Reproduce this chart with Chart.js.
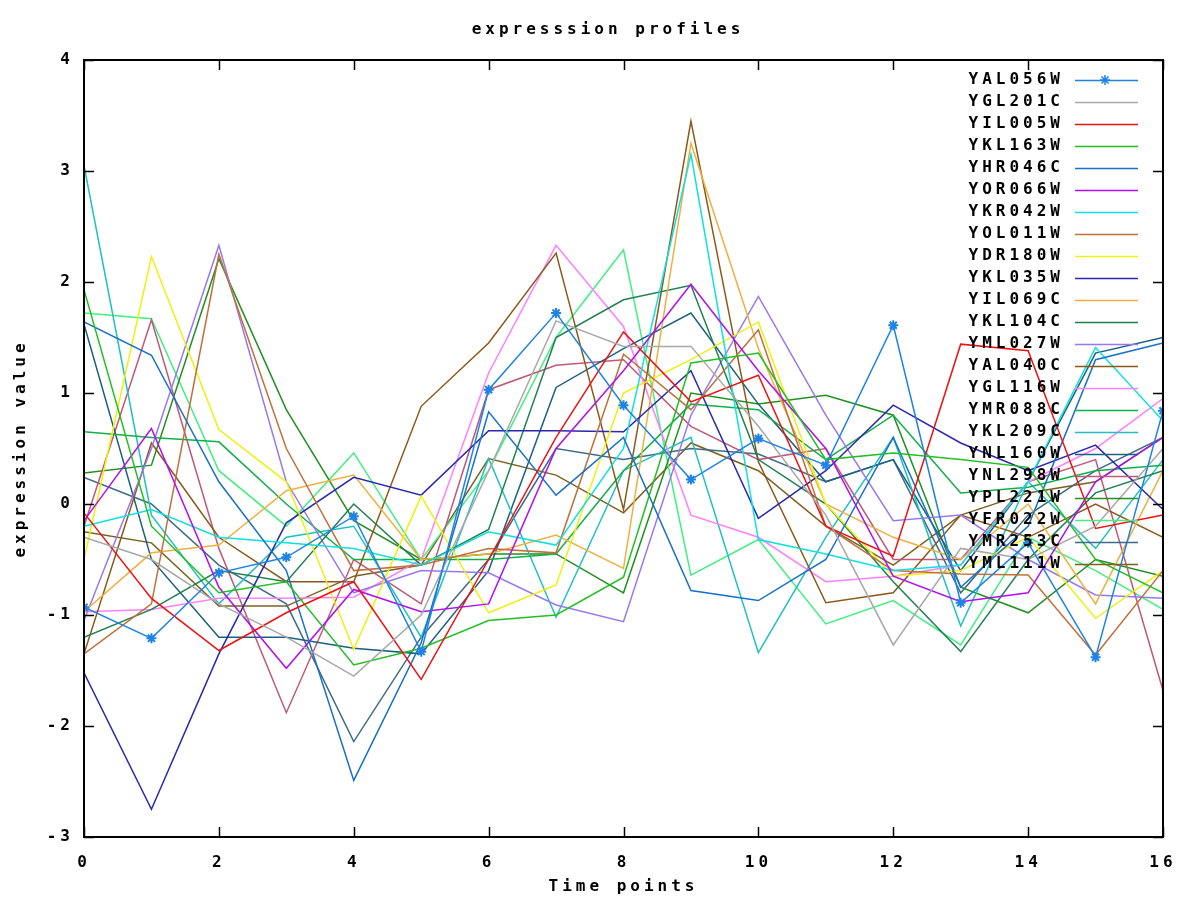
<!DOCTYPE html>
<html lang="en">
<head>
    <meta charset="UTF-8">
    <title>expression profiles</title>
    <style>
        body { margin: 0; padding: 0; background: #fff; }
        #chart { display: block; }
    </style>
    <script src="https://cdn.jsdelivr.net/npm/chart.js"></script>
</head>
<body>
    <canvas id="chart" width="1200" height="900"></canvas>
    <script>
        // time points on the x axis
        var timePoints = [0, 1, 2, 3, 4, 5, 6, 7, 8, 9, 10, 11, 12, 13, 14, 15, 16];

        // expression values per gene
        var YAL056W = [-0.93, -1.21, -0.62, -0.48, -0.11, -1.33, 1.03, 1.72, 0.89, 0.22, 0.59, 0.35, 1.61, -0.89, -0.35, -1.38, 0.84];
        var YGL201C = [-0.3, -0.5, -0.9, -1.2, -1.55, -1.0, 0.3, 1.65, 1.42, 1.42, 0.7, -0.1, -1.27, -0.4, -0.5, -0.2, 0.5];
        var YIL005W = [-0.08, -0.85, -1.32, -0.98, -0.7, -1.58, -0.5, 0.6, 1.55, 0.92, 1.16, -0.2, -0.47, 1.44, 1.38, -0.22, -0.1];
        var YKL163W = [1.93, -0.2, -0.8, -0.7, -1.45, -1.3, -1.05, -1.0, -0.66, 1.27, 1.36, 0.4, 0.46, 0.4, 0.33, -0.5, -0.8];
        var YHR046C = [1.64, 1.34, 0.2, -0.6, -2.49, -1.25, 0.83, 0.08, 0.6, -0.78, -0.87, -0.5, 0.6, -0.75, -0.2, 1.3, 1.45];
        var YOR066W = [-0.15, 0.68, -0.75, -1.48, -0.77, -0.97, -0.9, 0.5, 1.2, 1.98, 1.2, 0.5, -0.65, -0.88, -0.8, 0.2, 0.6];
        var YKR042W = [-0.2, -0.05, -0.3, -0.35, -0.4, -0.55, -0.25, -0.37, 0.5, 3.15, -0.32, -0.45, -0.6, -0.55, 0.2, 1.41, 0.75];
        var YOL011W = [-1.35, -0.9, 2.25, 0.5, -0.6, -0.55, -0.4, -0.44, 1.35, 0.85, 1.57, -0.2, -0.6, -0.63, -0.64, -1.36, -0.6];
        var YDR180W = [-0.5, 2.23, 0.67, 0.2, -1.31, 0.07, -0.98, -0.73, 1.0, 1.3, 1.64, 0.0, -0.65, -0.6, -0.3, -1.03, -0.6];
        var YKL035W = [-1.52, -2.75, -1.35, -0.17, 0.24, 0.08, 0.66, 0.66, 0.65, 1.2, -0.13, 0.3, 0.89, 0.55, 0.3, 0.53, -0.05];
        var YIL069C = [-0.97, -0.44, -0.37, 0.12, 0.26, -0.5, -0.45, -0.28, -0.58, 3.25, 1.4, 0.0, -0.3, -0.5, 0.0, -0.9, 0.3];
        var YKL104C = [-1.2, -0.95, -0.6, -0.7, 0.0, -0.55, -0.23, 1.5, 1.84, 1.97, 0.4, 0.0, -0.7, -1.33, -0.5, 0.1, 0.3];
        var YML027W = [-1.05, 0.5, 2.33, 0.2, -0.8, -0.6, -0.62, -0.91, -1.06, 0.8, 1.87, 0.8, -0.15, -0.1, -0.5, -0.82, -0.85];
        var YAL040C = [-1.35, 0.55, -0.3, -0.7, -0.7, 0.88, 1.45, 2.26, -0.05, 3.45, 0.38, -0.89, -0.8, -0.1, -0.3, 0.0, -0.3];
        var YGL116W = [-0.97, -0.95, -0.85, -0.85, -0.84, -0.5, 1.18, 2.33, 1.6, -0.1, -0.3, -0.7, -0.65, -0.55, 0.2, 0.5, 0.95];
        var YMR088C = [0.65, 0.6, 0.56, 0.0, -0.5, -0.5, -0.5, -0.45, 0.3, 0.9, 0.85, 0.4, 0.8, 0.1, 0.15, 0.3, 0.35];
        var YKL209C = [3.05, -0.1, -0.9, -0.3, -0.2, -1.2, 0.41, -1.02, 0.3, 0.6, -1.34, -0.3, 0.6, -1.1, 0.2, -0.4, 0.4];
        var YNL160W = [1.62, -0.5, -1.2, -1.2, -1.3, -1.35, -0.6, 1.05, 1.4, 1.72, 0.9, 0.2, 0.4, -0.6, 0.2, 1.36, 1.5];
        var YNL298W = [-0.2, 1.66, -0.4, -1.88, -0.5, -0.9, 1.03, 1.25, 1.3, 0.7, 0.4, 0.5, -0.5, -0.5, 0.2, 0.4, -1.68];
        var YPL221W = [0.28, 0.35, 2.21, 0.85, -0.15, -0.5, -0.45, -0.45, -0.8, 1.0, 0.9, 0.98, 0.8, -0.75, -0.98, -0.5, -0.65];
        var YFR022W = [1.72, 1.67, 0.3, -0.2, 0.46, -0.5, 0.3, 1.5, 2.29, -0.64, -0.32, -1.08, -0.87, -1.27, -0.3, -0.6, -0.95];
        var YMR253C = [0.24, 0.0, -0.55, -0.9, -2.14, -1.2, -0.5, 0.5, 0.4, 0.5, 0.45, 0.2, 0.4, -0.8, -0.1, 0.3, 0.6];
        var YML111W = [-0.25, -0.35, -0.92, -0.92, -0.65, -0.55, 0.41, 0.26, -0.08, 0.55, 0.3, -0.2, -0.55, -0.1, 0.1, 0.2, 0.6];

        var geneNames = ['YAL056W', 'YGL201C', 'YIL005W', 'YKL163W', 'YHR046C', 'YOR066W', 'YKR042W', 'YOL011W',
            'YDR180W', 'YKL035W', 'YIL069C', 'YKL104C', 'YML027W', 'YAL040C', 'YGL116W', 'YMR088C',
            'YKL209C', 'YNL160W', 'YNL298W', 'YPL221W', 'YFR022W', 'YMR253C', 'YML111W'];
        var geneValues = [YAL056W, YGL201C, YIL005W, YKL163W, YHR046C, YOR066W, YKR042W, YOL011W,
            YDR180W, YKL035W, YIL069C, YKL104C, YML027W, YAL040C, YGL116W, YMR088C,
            YKL209C, YNL160W, YNL298W, YPL221W, YFR022W, YMR253C, YML111W];
        var geneColors = ['#1e82e6', '#a8a8a8', '#ee1111', '#22c022', '#1870c8', '#b010f0', '#10e0e0', '#c0703c',
            '#f0f010', '#2828b0', '#f0b040', '#208050', '#9878f0', '#8c5818', '#ff80ff', '#10b048',
            '#20c0c0', '#1c6080', '#c05878', '#209020', '#40f080', '#3c6c88', '#7c6020'];

        var FONT = "'DejaVu Sans Mono', monospace";
        var SPACING = '4px';

        var datasets = geneNames.map(function (name, i) {
            return {
                label: name,
                data: timePoints.map(function (t, j) { return { x: t, y: geneValues[i][j] }; }),
                borderColor: geneColors[i],
                backgroundColor: geneColors[i],
                borderWidth: 1.5,
                pointRadius: i === 0 ? 5 : 0,
                pointStyle: 'star',
                pointBorderWidth: 2,
                tension: 0
            };
        });

        // gnuplot style frame, inward ticks, legend and title
        var gnuplotLook = {
            id: 'gnuplotLook',
            beforeUpdate: function (chart) { chart.ctx.letterSpacing = SPACING; },
            beforeDraw: function (chart) { chart.ctx.letterSpacing = SPACING; },
            afterDatasetsDraw: function (chart) {
                var ctx = chart.ctx;
                var a = chart.chartArea;
                var xs = chart.scales.x, ys = chart.scales.y;
                ctx.save();
                ctx.letterSpacing = SPACING;
                ctx.strokeStyle = '#000';
                ctx.lineWidth = 2;
                ctx.strokeRect(a.left, a.top, a.right - a.left, a.bottom - a.top);

                ctx.lineWidth = 1.5;
                ctx.beginPath();
                xs.ticks.forEach(function (t) {
                    var px = Math.round(xs.getPixelForValue(t.value)) + 0.5;
                    ctx.moveTo(px, a.bottom); ctx.lineTo(px, a.bottom - 10);
                    ctx.moveTo(px, a.top); ctx.lineTo(px, a.top + 10);
                });
                ys.ticks.forEach(function (t) {
                    var py = Math.round(ys.getPixelForValue(t.value)) + 0.5;
                    ctx.moveTo(a.left, py); ctx.lineTo(a.left + 10, py);
                    ctx.moveTo(a.right, py); ctx.lineTo(a.right - 10, py);
                });
                ctx.stroke();

                // legend, top right inside the plot
                ctx.font = 'bold 16px ' + FONT;
                ctx.textAlign = 'right';
                ctx.textBaseline = 'middle';
                chart.data.datasets.forEach(function (ds, i) {
                    var y = 80 + 22 * i;
                    ctx.fillStyle = '#000';
                    ctx.fillText(ds.label, 1064, y);
                    ctx.strokeStyle = ds.borderColor;
                    ctx.lineWidth = 1.5;
                    ctx.beginPath();
                    ctx.moveTo(1075, y + 0.5);
                    ctx.lineTo(1138, y + 0.5);
                    ctx.stroke();
                    if (ds.pointRadius > 0) {
                        Chart.helpers.drawPoint(ctx, {
                            pointStyle: 'star', radius: 5, borderWidth: 2
                        }, 1105, y);
                    }
                });

                // title
                ctx.textAlign = 'center';
                ctx.fillText('expresssion profiles', 608, 30);
                ctx.restore();
            }
        };

        var tickFont = { family: FONT, size: 16, weight: 'bold' };

        var ctx = document.getElementById('chart').getContext('2d');
        new Chart(ctx, {
            type: 'line',
            data: { datasets: datasets },
            options: {
                responsive: false,
                animation: false,
                layout: { padding: { top: 60, right: 37, left: 0, bottom: 0 } },
                plugins: {
                    legend: { display: false },
                    title: { display: false },
                    tooltip: { enabled: false }
                },
                scales: {
                    x: {
                        type: 'linear',
                        min: 0,
                        max: 16,
                        afterFit: function (s) { s.height = 63; },
                        grid: { display: false, drawTicks: false },
                        border: { display: false },
                        ticks: {
                            stepSize: 2,
                            padding: 16,
                            color: '#000',
                            font: tickFont
                        },
                        title: {
                            display: true,
                            text: 'Time points',
                            color: '#000',
                            font: tickFont,
                            padding: { top: 0, bottom: 4 }
                        }
                    },
                    y: {
                        min: -3,
                        max: 4,
                        afterFit: function (s) { s.width = 84; },
                        grid: { display: false, drawTicks: false },
                        border: { display: false },
                        ticks: {
                            stepSize: 1,
                            padding: 10,
                            color: '#000',
                            font: tickFont
                        },
                        title: {
                            display: true,
                            text: 'expression value',
                            color: '#000',
                            font: tickFont,
                            padding: { top: 11, bottom: 0 }
                        }
                    }
                }
            },
            plugins: [gnuplotLook]
        });
    </script>
</body>
</html>
